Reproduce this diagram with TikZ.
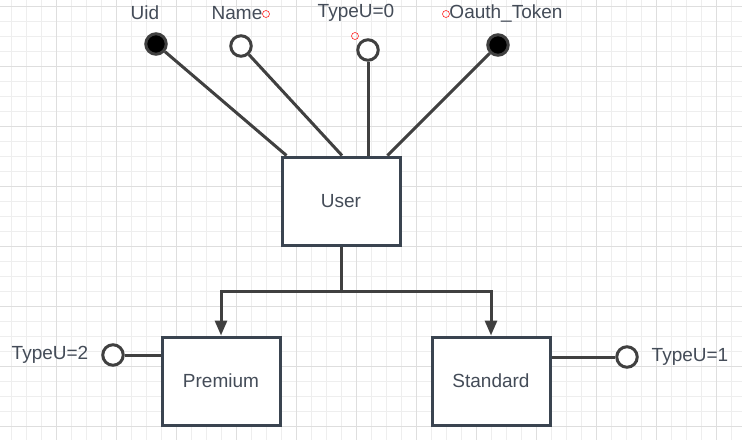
\documentclass[tikz,border=0pt]{standalone}
\usepackage{fontspec}
\setmainfont{Liberation Sans}
\usepackage{xcolor}
\usetikzlibrary{arrows.meta, positioning}
\definecolor{ink}{RGB}{64,64,64}
\definecolor{edgecol}{RGB}{58,68,80}
\definecolor{txtcol}{RGB}{68,76,88}
\definecolor{gridminor}{RGB}{238,238,238}
\definecolor{gridmajor}{RGB}{222,222,222}

\begin{document}
\begin{tikzpicture}[x=1pt,y=-1pt,
  entity/.style={draw=edgecol,line width=3pt,fill=white,minimum width=118pt,minimum height=88pt,text=txtcol,font=\fontsize{19}{21}\selectfont},
  attr/.style={circle,draw=ink,line width=3pt,fill=white,minimum size=20.5pt,inner sep=0pt},
  keyattr/.style={attr,fill=black},
  lbl/.style={text=txtcol,inner sep=0pt,font=\fontsize{19}{21}\selectfont},
  link/.style={draw=ink,line width=3pt},
  hint/.style={circle,draw=red!85,line width=0.6pt,minimum size=7pt,inner sep=0pt}]
\useasboundingbox[fill=white] (0,0) rectangle (742,440);
\foreach \x in {11.7,26.7,...,742} \draw[gridminor,line width=1pt] (\x,0) -- (\x,440);
\foreach \y in {6.7,21.7,...,440} \draw[gridminor,line width=1pt] (0,\y) -- (742,\y);
\foreach \x in {56.7,116.7,...,742} \draw[gridmajor,line width=1.2pt] (\x,0) -- (\x,440);
\foreach \y in {6.7,66.7,...,440} \draw[gridmajor,line width=1.2pt] (0,\y) -- (742,\y);

\node[entity] (user) at (341,201) {User};
\node[entity] (premium) at (221,381) {Premium};
\node[entity] (standard) at (491,381) {Standard};

\node[keyattr] (uid) at (156,44) {};
\node[attr] (name) at (241,46) {};
\node[attr] (type0) at (368,50) {};
\node[keyattr] (oauth) at (498,45) {};
\node[attr] (type2) at (113,355) {};
\node[attr] (type1) at (627,357) {};

\node[lbl] at (145,13) {Uid};
\node[lbl] at (237,13) {Name};
\node[lbl] at (356,13) {TypeU=0};
\node[lbl] at (506,13) {Oauth\_Token};
\node[lbl] at (50,355) {TypeU=2};
\node[lbl] at (690,357) {TypeU=1};

\node[hint] (namehint) at (266,14) {};
\node[hint] (type0hint) at (355,36) {};
\node[hint] (oauthhint) at (446,14) {};

\draw[link] (uid) -- ([xshift=6pt]user.north west);
\draw[link] (name) -- ([xshift=1pt]user.north);
\draw[link] (type0) -- (type0 |- user.north);
\draw[link] (oauth) -- ([xshift=-14pt]user.north east);

\coordinate (split) at (341,291);
\draw[link] (user.south) -- (split);
\draw[link,-{Triangle[length=15pt,width=12pt]}] (split) -| (premium.north);
\draw[link,-{Triangle[length=15pt,width=12pt]}] (split) -| (standard.north);

\draw[link] (type2) -- (premium.west |- type2);
\draw[link] (standard.east |- type1) -- (type1);
\end{tikzpicture}
\end{document}
